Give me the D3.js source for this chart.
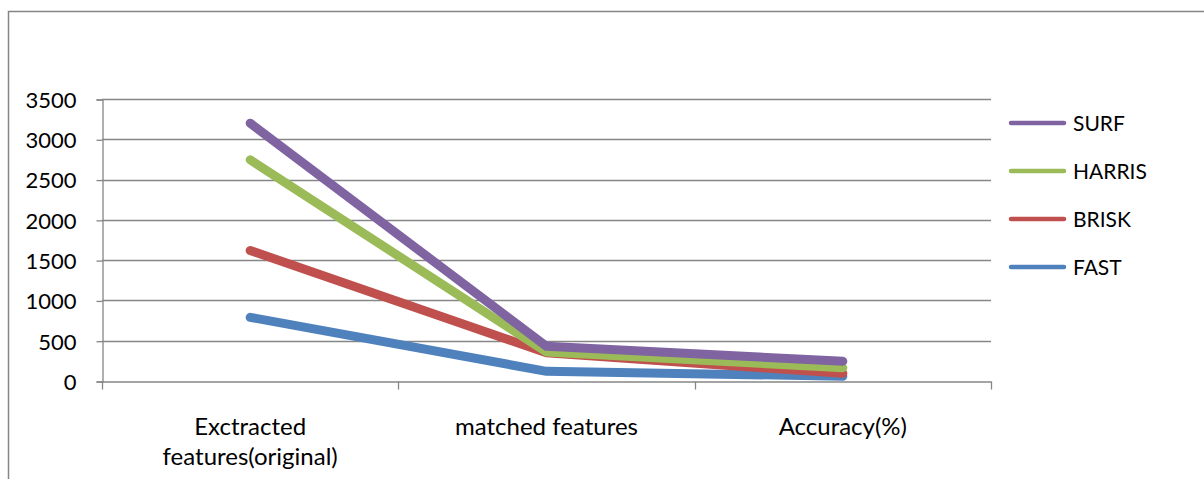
<!DOCTYPE html>
<html>
<head>
<meta charset="utf-8">
<script src="https://cdn.jsdelivr.net/npm/d3@7"></script>
<style>
  body { margin: 0; background: #fff; }
  svg text { font-family: Lato, "Open Sans", sans-serif; fill: #000; }
</style>
</head>
<body>
<div id="chart"></div>
<script>
// chart data
const categories = ["Exctracted\nfeatures(original)", "matched features", "Accuracy(%)"];
const seriesNames = ["SURF", "HARRIS", "BRISK", "FAST"];
const surfValues = [3200, 430, 245];
const harrisValues = [2745, 360, 165];
const briskValues = [1620, 350, 95];
const fastValues = [790, 120, 60];
const yTicks = [0, 500, 1000, 1500, 2000, 2500, 3000, 3500];
const colors = {SURF: "#8064A2", HARRIS: "#9BBB59", BRISK: "#C0504D", FAST: "#4F81BD"};

const series = [
    {name: "SURF", values: surfValues},
    {name: "HARRIS", values: harrisValues},
    {name: "BRISK", values: briskValues},
    {name: "FAST", values: fastValues}
];

const W = 1204, H = 479;
const plot = {left: 102, right: 991, top: 99, bottom: 381};
const grey = "#868686";

const svg = d3.select("#chart").append("svg")
    .attr("width", W)
    .attr("height", H);

// outer frame (runs off the right and bottom edges)
svg.append("rect")
    .attr("x", 8.5)
    .attr("y", 11.5)
    .attr("width", 1400)
    .attr("height", 600)
    .attr("fill", "none")
    .attr("stroke", grey)
    .attr("stroke-width", 1.5);

let x = d3.scaleBand()
    .domain(categories)
    .range([plot.left, plot.right]);

let y = d3.scaleLinear()
    .domain([0, 3500])
    .range([plot.bottom, plot.top]);

// gridlines
svg.append("g")
    .selectAll("line")
    .data(yTicks.filter(d => d > 0))
    .enter()
    .append("line")
    .attr("x1", plot.left)
    .attr("x2", plot.right)
    .attr("y1", d => Math.round(y(d)) + 0.5)
    .attr("y2", d => Math.round(y(d)) + 0.5)
    .attr("stroke", grey)
    .attr("stroke-width", 1.3);

// y axis
let yAxis = svg.append("g")
    .attr("transform", "translate(" + (plot.left + 0.5) + ",0.5)")
    .call(d3.axisLeft(y).tickValues(yTicks).tickFormat(d3.format("d")).tickSize(6).tickPadding(20));
yAxis.attr("font-size", null).attr("font-family", null);
yAxis.selectAll("text").style("font-size", "22px").attr("dy", "0.36em");

// x axis
let xAxis = svg.append("g")
    .attr("transform", "translate(0," + (Math.round(plot.bottom) + 0.5) + ")")
    .call(d3.axisBottom(x).tickSize(0).tickFormat(""));
xAxis.selectAll("g.tick").remove();

[plot.left, ...categories.map(c => x(c) + x.bandwidth())].forEach(px => {
    xAxis.append("line")
        .attr("x1", Math.round(px) + 0.5)
        .attr("x2", Math.round(px) + 0.5)
        .attr("y1", 0)
        .attr("y2", 8)
        .attr("stroke", grey)
        .attr("stroke-width", 1.3);
});

svg.selectAll(".domain").attr("stroke", grey).attr("stroke-width", 1.3);
yAxis.selectAll(".tick line").attr("stroke", grey).attr("stroke-width", 1.3);

// category labels
categories.forEach(c => {
    let lines = c.split("\n");
    let t = svg.append("text")
        .attr("text-anchor", "middle")
        .attr("x", x(c) + x.bandwidth() / 2)
        .attr("y", 435)
        .style("font-size", "24px");
    lines.forEach((l, i) => {
        t.append("tspan")
            .attr("x", x(c) + x.bandwidth() / 2)
            .attr("dy", i === 0 ? 0 : 30)
            .text(l);
    });
});

// lines, drawn so that SURF ends up on top
let line = d3.line()
    .x((d, i) => x(categories[i]) + x.bandwidth() / 2)
    .y(d => y(d));

svg.append("g")
    .selectAll("path")
    .data(series.slice().reverse())
    .enter()
    .append("path")
    .attr("d", d => line(d.values))
    .attr("fill", "none")
    .attr("stroke", d => colors[d.name])
    .attr("stroke-width", 9)
    .attr("stroke-linecap", "round")
    .attr("stroke-linejoin", "round");

// legend
let legend = svg.append("g")
    .selectAll("g")
    .data(seriesNames)
    .enter()
    .append("g")
    .attr("transform", (d, i) => "translate(1011," + (123 + i * 48) + ")");

legend.append("line")
    .attr("x1", 0)
    .attr("x2", 53)
    .attr("stroke", d => colors[d])
    .attr("stroke-width", 4.5)
    .attr("stroke-linecap", "round");

legend.append("text")
    .attr("x", 62)
    .attr("y", 8)
    .style("font-size", "21px")
    .text(d => d);
</script>
</body>
</html>
